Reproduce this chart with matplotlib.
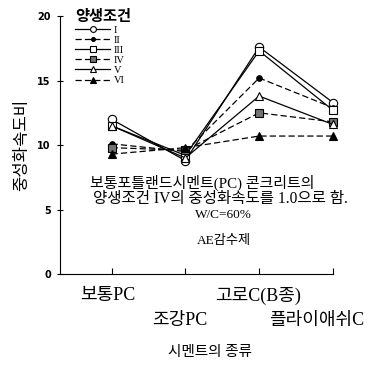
import matplotlib
matplotlib.use('Agg')
import matplotlib.pyplot as plt

plt.rcParams['font.family'] = ['Liberation Serif', 'Noto Sans CJK KR']

# ── DONNÉES ──────────────────────────────────────────────
cements = ['보통PC', '조강PC', '고로C(B종)', '플라이애쉬C']
x_pos = [1, 2, 3, 4]
label_rows = [0, 1, 0, 1]          # étiquettes en quinconce

conditions = ['I', 'II', 'III', 'IV', 'V', 'VI']
ratio_I   = [12.0,  8.8, 17.6, 13.3]
ratio_II  = [10.1,  9.5, 15.2, 12.9]
ratio_III = [11.5,  9.2, 17.3, 12.7]
ratio_IV  = [ 9.8,  9.6, 12.5, 11.8]
ratio_V   = [11.5,  9.0, 13.8, 11.6]
ratio_VI  = [ 9.3,  9.8, 10.7, 10.7]
series = [ratio_I, ratio_II, ratio_III, ratio_IV, ratio_V, ratio_VI]

styles = [
    dict(ls='-',  marker='o', mfc='white'),
    dict(ls='--', marker='o', mfc='black', ms=4),
    dict(ls='-',  marker='s', mfc='white'),
    dict(ls='--', marker='s', mfc='0.45'),
    dict(ls='-',  marker='^', mfc='white'),
    dict(ls='--', marker='^', mfc='black'),
]

# ── FIGURE ───────────────────────────────────────────────
fig = plt.figure(figsize=(3.72, 3.65), dpi=100)
ax = fig.add_axes([0.161, 0.249, 0.734, 0.707])

for vals, st, name in zip(series, styles, conditions):
    kw = dict(color='black', lw=0.9, ms=6, mec='black', mew=0.8, clip_on=False)
    kw.update(st)
    ax.plot(x_pos, vals, label=name, dashes=(5, 2.5) if kw['ls'] == '--' else (None, None), **kw)

ax.set_xlim(0.3, 4.0)
ax.set_ylim(0, 20)
ax.spines['top'].set_visible(False)
ax.spines['right'].set_visible(False)
ax.set_yticks([0, 5, 10, 15, 20])
ax.tick_params(axis='y', direction='inout', length=5, labelsize=7, pad=4)
for t in ax.get_yticklabels():
    t.set_family('DejaVu Sans'); t.set_fontweight('bold')
ax.set_xticks(x_pos)
ax.set_xticklabels([])
ax.tick_params(axis='x', direction='in', length=4)

offsets_x = [-3, -4, -1, -12]
for xp, lab, row, dx in zip(x_pos, cements, label_rows, offsets_x):
    ax.annotate(lab, xy=(xp, 0), xycoords=('data', 'axes fraction'),
                xytext=(dx, -9 - row * 18), textcoords='offset points',
                ha='center', va='top', fontsize=13)

ax.set_ylabel('중성화속도비', fontsize=12)
ax.yaxis.set_label_coords(-0.11, 0.5)
fig.text(0.565, 0.035, '시멘트의 종류', ha='center', va='center', fontsize=10.5)

# texte explicatif
ax.text(0.11, 0.355, '보통포틀랜드시멘트(PC) 콘크리트의', transform=ax.transAxes,
        fontsize=10.8, ha='left', va='center')
ax.text(0.12, 0.29, '양생조건 IV의 중성화속도를 1.0으로 함.', transform=ax.transAxes,
        fontsize=11.2, ha='left', va='center')
ax.text(0.60, 0.23, 'W/C=60%', transform=ax.transAxes,
        fontsize=9.5, ha='center', va='center')
ax.text(0.60, 0.13, 'AE감수제', transform=ax.transAxes,
        fontsize=9.5, ha='center', va='center')

leg = ax.legend(loc='upper left', bbox_to_anchor=(0.03, 1.05), frameon=False,
                title='양생조건', fontsize=7.5, title_fontsize=11,
                handlelength=3.3, handletextpad=0.4, labelspacing=0.08,
                markerscale=0.7, borderpad=0.2)
leg._legend_box.align = 'left'
leg.get_title().set_fontweight('bold')

fig.savefig('out.png', dpi=100)
